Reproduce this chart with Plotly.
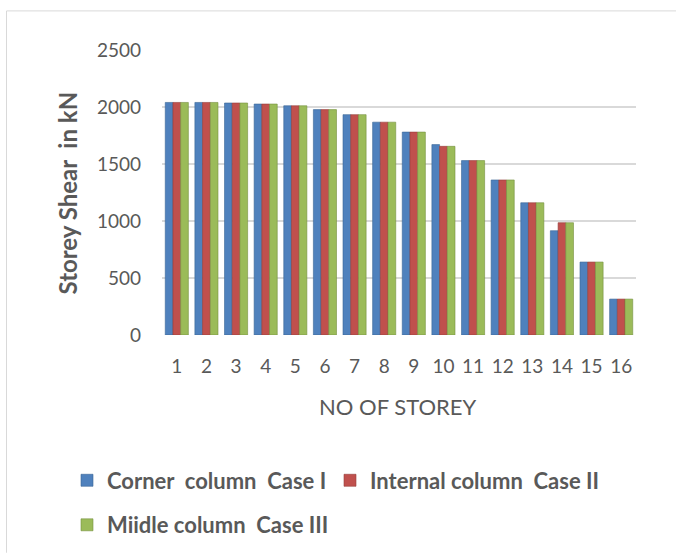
import plotly.graph_objects as go

# Storey numbers and shear values (kN) for each column case
storeys = [str(i) for i in range(1, 17)]
corner_case1 = [2040, 2040, 2035, 2026, 2011, 1977, 1933, 1867, 1780, 1670,
                1530, 1360, 1160, 915, 640, 315]
internal_case2 = [2040, 2040, 2035, 2026, 2011, 1977, 1933, 1867, 1780, 1655,
                  1530, 1360, 1160, 985, 640, 315]
middle_case3 = [2040, 2040, 2035, 2026, 2011, 1977, 1933, 1867, 1780, 1655,
                1530, 1360, 1160, 985, 640, 315]
series_names = ["Corner  column  Case I", "Internal column  Case II",
                "Miidle column  Case III"]
y_ticks = [0, 500, 1000, 1500, 2000, 2500]

FONT = "Lato, 'Open Sans', sans-serif"
TXT = "#595959"

fills = ["#4F81BD", "#C0504D", "#9BBB59"]
edges = ["#3B6696", "#963E3B", "#76913F"]
legend_refs = ["legend", "legend3", "legend2"]

W, H = 676, 558
L, R, T, B = 162, 40, 50, 220
pw, ph = W - L - R, H - T - B


def px_x(x):
    return (x - L) / pw


def px_y(y):
    return (H - B - y) / ph


def keep_spaces(s):
    return s.replace("  ", " \u00a0")


fig = go.Figure()
for name, vals, c, e, lg in zip(series_names,
                                [corner_case1, internal_case2, middle_case3],
                                fills, edges, legend_refs):
    fig.add_trace(go.Bar(
        x=storeys, y=vals, name=keep_spaces(name), legend=lg,
        marker=dict(color=c, line=dict(color=e, width=0.6)),
    ))

legend_font = dict(family=FONT, size=22, color=TXT, weight="bold")
legend_common = dict(
    orientation="h", xanchor="left", yanchor="middle",
    font=legend_font, itemwidth=30, bgcolor="rgba(0,0,0,0)", borderwidth=0,
)

# chart-area frame: only the top and left edges fall inside the page
frame = dict(type="line", xref="paper", yref="paper",
             line=dict(color="#D9D9D9", width=1), layer="below")

fig.update_layout(
    width=W, height=H,
    margin=dict(l=L, r=R, t=T, b=B),
    paper_bgcolor="white", plot_bgcolor="white",
    barmode="group", bargap=0.22, bargroupgap=0,
    font=dict(family=FONT, color=TXT),
    showlegend=True,
    legend=dict(x=px_x(67), y=px_y(485), **legend_common),
    legend3=dict(x=px_x(330), y=px_y(485), **legend_common),
    legend2=dict(x=px_x(67), y=px_y(530), **legend_common),
    xaxis=dict(
        type="category", showgrid=False, zeroline=False, showline=False,
        ticks="", tickfont=dict(family=FONT, size=19, color=TXT),
        ticklabelstandoff=18,
    ),
    yaxis=dict(
        range=[0, 2500], tickvals=y_ticks, showgrid=True,
        gridcolor="#D9D9D9", gridwidth=2, zeroline=False, showline=False,
        ticks="", tickfont=dict(family=FONT, size=19, color=TXT),
        ticklabelstandoff=20,
    ),
    shapes=[
        dict(frame, x0=px_x(6.5), x1=px_x(6.5), y0=px_y(H), y1=px_y(10.5)),
        dict(frame, x0=px_x(6.5), x1=px_x(W), y0=px_y(10.5), y1=px_y(10.5)),
    ],
    annotations=[
        dict(text="NO OF STOREY", xref="paper", yref="paper",
             x=px_x(398), y=px_y(410), xanchor="center", yanchor="middle",
             showarrow=False, font=dict(family=FONT, size=22, color=TXT)),
        dict(text=keep_spaces("Storey Shear  in kN"), xref="paper", yref="paper",
             x=px_x(67), y=px_y(195), xanchor="center", yanchor="middle",
             showarrow=False, textangle=-90,
             font=dict(family=FONT, size=24, color=TXT, weight="bold")),
    ],
)

fig.write_html("out.html")
